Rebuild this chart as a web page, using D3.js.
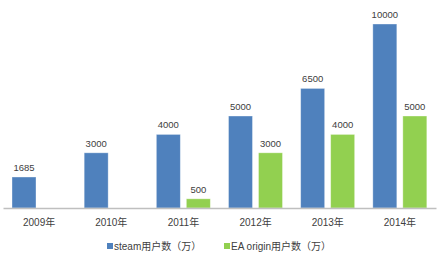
<!DOCTYPE html>
<html>
<head>
<meta charset="utf-8">
<script src="https://cdn.jsdelivr.net/npm/d3@7"></script>
<style>
    body { margin: 0; background: #fff; }
    svg text { font-family: "Liberation Sans", "Noto Sans CJK SC", sans-serif; fill: #404040; }
</style>
</head>
<body>
<svg id="chart" width="447" height="260"></svg>
<script>
'use strict';

var years = ["2009年", "2010年", "2011年", "2012年", "2013年", "2014年"];
var seriesNames = ["steam用户数（万）", "EA origin用户数（万）"];
var steamUsers = [1685, 3000, 4000, 5000, 6500, 10000];
var originUsers = [null, null, 500, 3000, 4000, 5000];
var colors = ["#4f81bd", "#92d050"];

var svg = d3.select("#chart");
var baseY = 208;

var x0 = d3.scaleBand().domain(years).range([3, 436]);
var x1 = d3.scaleBand().domain([0, 1]).range([9, 63]).paddingInner(0.2).paddingOuter(0);
var y = d3.scaleLinear().domain([0, 10000]).range([baseY, 24]);

var rows = [];
years.forEach(function(yr, i) {
    [steamUsers[i], originUsers[i]].forEach(function(v, s) {
        if (v != null) rows.push({year: yr, s: s, v: v});
    });
});

var bars = svg.append("g");
bars.selectAll("rect")
    .data(rows)
    .enter()
    .append("rect")
    .attr("x", function(d) { return x0(d.year) + x1(d.s); })
    .attr("y", function(d) { return y(d.v); })
    .attr("width", x1.bandwidth())
    .attr("height", function(d) { return baseY - y(d.v); })
    .attr("fill", function(d) { return colors[d.s]; })
    .attr("stroke", "rgba(255,255,255,0.45)")
    .attr("stroke-width", 0.8);

bars.selectAll("text")
    .data(rows)
    .enter()
    .append("text")
    .attr("x", function(d) { return x0(d.year) + x1(d.s) + x1.bandwidth() / 2; })
    .attr("y", function(d) { return y(d.v) - 6; })
    .attr("text-anchor", "middle")
    .attr("font-size", "9.5px")
    .text(function(d) { return d.v; });

// x axis
var xAxis = svg.append("g")
    .attr("transform", "translate(0," + baseY + ")")
    .call(d3.axisBottom(x0).tickSize(0).tickPadding(11));
xAxis.attr("font-family", null);
xAxis.select(".domain").attr("stroke", "#bfbfbf").attr("stroke-width", 1.3);
xAxis.selectAll("text").attr("font-size", "10px").attr("fill", "#404040");

// legend
var legendX = [107, 224];
var legend = svg.append("g");
seriesNames.forEach(function(name, i) {
    legend.append("rect")
        .attr("x", legendX[i])
        .attr("y", 243)
        .attr("width", 6)
        .attr("height", 6)
        .attr("fill", colors[i]);
    legend.append("text")
        .attr("x", legendX[i] + 7)
        .attr("y", 249.5)
        .attr("font-size", "10px")
        .text(name);
});
</script>
</body>
</html>
